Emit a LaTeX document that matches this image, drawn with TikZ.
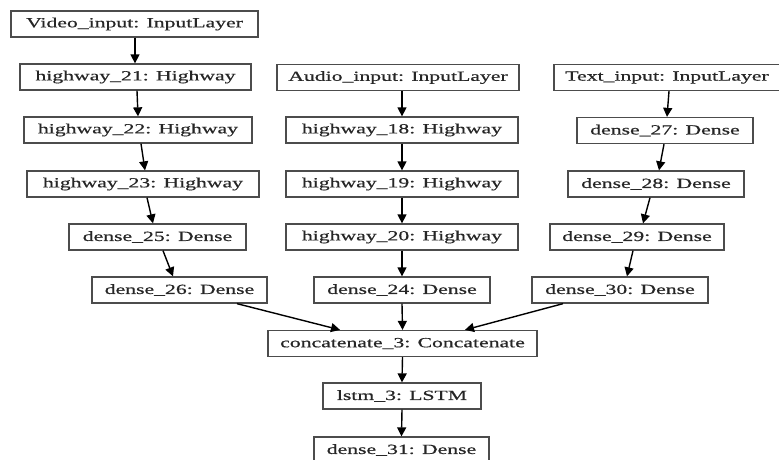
\documentclass[tikz,border=0pt]{standalone}
\usepackage{fontspec}
\setmainfont[FakeStretch=1.55,FakeBold=0.6]{Liberation Serif}
\usetikzlibrary{arrows.meta}
\tikzset{
  layer/.style={draw=black!70, line width=1.3pt, rectangle, inner sep=0pt,
    minimum height=26pt, font=\fontsize{14}{16}\selectfont, text=black!85},
  conn/.style={line width=1.4pt, -{Triangle[length=9pt,width=9pt]}}
}
\begin{document}
\begin{tikzpicture}[x=1pt,y=-1pt]
\useasboundingbox (0,0) rectangle (779,459);
% video column
\node[layer, minimum width=247pt] (v0) at (134.5,24) {Video\_input: InputLayer};
\node[layer, minimum width=231pt] (v1) at (135.5,77) {highway\_21: Highway};
\node[layer, minimum width=228pt] (v2) at (138,130) {highway\_22: Highway};
\node[layer, minimum width=232pt] (v3) at (143,184) {highway\_23: Highway};
\node[layer, minimum width=177pt] (v4) at (157.5,237) {dense\_25: Dense};
\node[layer, minimum width=175pt] (v5) at (179.5,290) {dense\_26: Dense};
% audio column
\node[layer, minimum width=242pt] (a0) at (398,77.5) {Audio\_input: InputLayer};
\node[layer, minimum width=232pt] (a1) at (402,130) {highway\_18: Highway};
\node[layer, minimum width=232pt] (a2) at (402,184) {highway\_19: Highway};
\node[layer, minimum width=232pt] (a3) at (402,237) {highway\_20: Highway};
\node[layer, minimum width=176pt] (a4) at (402,290) {dense\_24: Dense};
% text column
\node[layer, minimum width=226pt] (t0) at (667,77.5) {Text\_input: InputLayer};
\node[layer, minimum width=176pt] (t1) at (665,130.5) {dense\_27: Dense};
\node[layer, minimum width=176pt] (t2) at (656,184) {dense\_28: Dense};
\node[layer, minimum width=174pt] (t3) at (637,237) {dense\_29: Dense};
\node[layer, minimum width=176pt] (t4) at (620,290) {dense\_30: Dense};
% merge
\node[layer, minimum width=269pt] (c) at (402.5,343.5) {concatenate\_3: Concatenate};
\node[layer, minimum width=158pt] (l) at (402,396) {lstm\_3: LSTM};
\node[layer, minimum width=175pt] (d) at (401.5,450) {dense\_31: Dense};
% connectors video
\draw[conn] ([xshift=0.5pt]v0.south) -- ([xshift=-0.5pt]v1.north);
\draw[conn] ([xshift=1.5pt]v1.south) -- (v2.north);
\draw[conn] ([xshift=3pt]v2.south) -- ([xshift=2pt]v3.north);
\draw[conn] ([xshift=4pt]v3.south) -- ([xshift=-4.5pt]v4.north);
\draw[conn] ([xshift=5.5pt]v4.south) -- ([xshift=-6.5pt]v5.north);
\draw[conn] ([xshift=57.5pt]v5.south) -- ([xshift=-62.5pt]c.north);
% audio
\draw[conn] ([xshift=4pt]a0.south) -- (a1.north);
\draw[conn] (a1.south) -- (a2.north);
\draw[conn] (a2.south) -- (a3.north);
\draw[conn] (a3.south) -- (a4.north);
\draw[conn] (a4.south) -- (c.north);
% text
\draw[conn] ([xshift=2pt]t0.south) -- ([xshift=2pt]t1.north);
\draw[conn] ([xshift=-1pt]t1.south) -- ([xshift=3pt]t2.north);
\draw[conn] ([xshift=-6pt]t2.south) -- ([xshift=6pt]t3.north);
\draw[conn] ([xshift=-4pt]t3.south) -- ([xshift=7pt]t4.north);
\draw[conn] ([xshift=-57pt]t4.south) -- ([xshift=62.5pt]c.north);
% merge
\draw[conn] (c.south) -- (l.north);
\draw[conn] (l.south) -- (d.north);
\end{tikzpicture}
\end{document}
